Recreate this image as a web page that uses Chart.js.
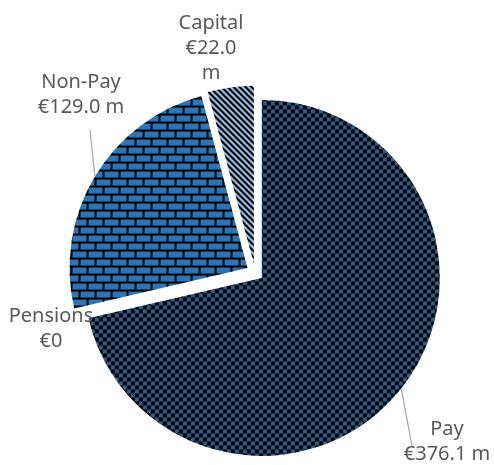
<!DOCTYPE html>
<html>
<head>
<meta charset="utf-8">
<script src="https://cdn.jsdelivr.net/npm/chart.js@4"></script>
<style>
  html, body { margin: 0; padding: 0; background: #fff; }
  #wrap { width: 494px; height: 465px; position: relative; }
</style>
</head>
<body>
<div id="wrap"><canvas id="pie"></canvas></div>
<script>
"use strict";

// Budget split, € millions, drawn clockwise from 12 o'clock.
const CATEGORIES = ['Pay', 'Pensions', 'Non-Pay', 'Capital'];
const VALUES = [376.1, 0, 129.0, 22.0];

const INK = '#595959', LEADER = '#a6a6a6';
const FONT = '20px "Noto Sans", "DejaVu Sans", sans-serif';
const RADIUS = 178;     // pie radius, px
const EXPLODE = 8.7;    // every slice pushed out from the centre by this much

// label block centres, wrap widths and leader tails (x, y in px)
const LABEL_AT = [[447, 442], [51, 329], [81, 95], [211, 48]];
const LABEL_WRAP = [120, 120, 120, 66];
const LEADER_TO = [[412, 446], null, [90, 130], null];

function tile(w, h, paint) {
  const c = document.createElement('canvas');
  c.width = w; c.height = h;
  const g = c.getContext('2d');
  paint(g);
  return g.createPattern(c, 'repeat');
}

// 4px checkerboard
const checker = tile(8, 8, g => {
  g.fillStyle = '#000'; g.fillRect(0, 0, 8, 8);
  g.fillStyle = '#2d5d8b'; g.fillRect(0, 0, 4, 4); g.fillRect(4, 4, 4, 4);
});
// brick courses, 2px black mortar
const brick = tile(16, 16, g => {
  g.fillStyle = '#000'; g.fillRect(0, 0, 16, 16);
  g.fillStyle = '#2e75b6';
  g.fillRect(0, 0, 14, 6);
  g.fillRect(8, 8, 8, 6); g.fillRect(0, 8, 6, 6);
});
// wide downward diagonal
const stripes = tile(6, 6, g => {
  for (let y = 0; y < 6; y++) for (let x = 0; x < 6; x++) {
    g.fillStyle = ((x - y + 6) % 6) < 3 ? '#000' : '#9dc3e6';
    g.fillRect(x, y, 1, 1);
  }
});

const fmt = v => v === 0 ? '€0' : '€' + v.toFixed(1) + ' m';

function wrap(ctx, text, maxW) {
  const out = [];
  let cur = '';
  text.split(' ').forEach(w => {
    const t = cur ? cur + ' ' + w : w;
    if (cur && ctx.measureText(t).width > maxW) { out.push(cur); cur = w; }
    else cur = t;
  });
  if (cur) out.push(cur);
  return out;
}

// push each slice outward along its own bisector
const explode = {
  id: 'explode',
  afterDatasetUpdate(chart) {
    chart.getDatasetMeta(0).data.forEach(arc => {
      if (arc.$exploded) return;
      const base = arc.draw;
      arc.draw = function (ctx) {
        const mid = (this.startAngle + this.endAngle) / 2;
        ctx.save();
        ctx.translate(Math.cos(mid) * EXPLODE, Math.sin(mid) * EXPLODE);
        base.call(this, ctx);
        ctx.restore();
      };
      arc.$exploded = true;
    });
  }
};

const sliceLabels = {
  id: 'sliceLabels',
  afterDatasetsDraw(chart) {
    const ctx = chart.ctx;
    const arcs = chart.getDatasetMeta(0).data;
    ctx.save();
    ctx.font = FONT;
    ctx.fillStyle = INK;
    ctx.textAlign = 'center';
    ctx.textBaseline = 'middle';
    arcs.forEach((arc, i) => {
      const mid = (arc.startAngle + arc.endAngle) / 2;
      if (LEADER_TO[i]) {
        const r = arc.outerRadius + EXPLODE;
        ctx.strokeStyle = LEADER;
        ctx.lineWidth = 1.2;
        ctx.beginPath();
        ctx.moveTo(arc.x + Math.cos(mid) * r, arc.y + Math.sin(mid) * r);
        ctx.lineTo(LEADER_TO[i][0], LEADER_TO[i][1]);
        ctx.stroke();
      }
      const lines = [CATEGORIES[i]].concat(wrap(ctx, fmt(VALUES[i]), LABEL_WRAP[i]));
      const lh = 25;
      const [cx, cy] = LABEL_AT[i];
      const y0 = cy - (lines.length - 1) * lh / 2;
      lines.forEach((s, k) => ctx.fillText(s, cx, y0 + k * lh));
    });
    ctx.restore();
  }
};

new Chart(document.getElementById('pie'), {
  type: 'pie',
  data: {
    labels: CATEGORIES,
    datasets: [{
      data: VALUES,
      backgroundColor: [checker, checker, brick, stripes],
      borderWidth: 0
    }]
  },
  options: {
    responsive: true,
    maintainAspectRatio: false,
    animation: false,
    radius: RADIUS,
    layout: { padding: { left: 16, right: 0, top: 80, bottom: 0 } },
    plugins: { legend: { display: false }, tooltip: { enabled: false } },
    events: []
  },
  plugins: [explode, sliceLabels]
});
</script>
</body>
</html>
